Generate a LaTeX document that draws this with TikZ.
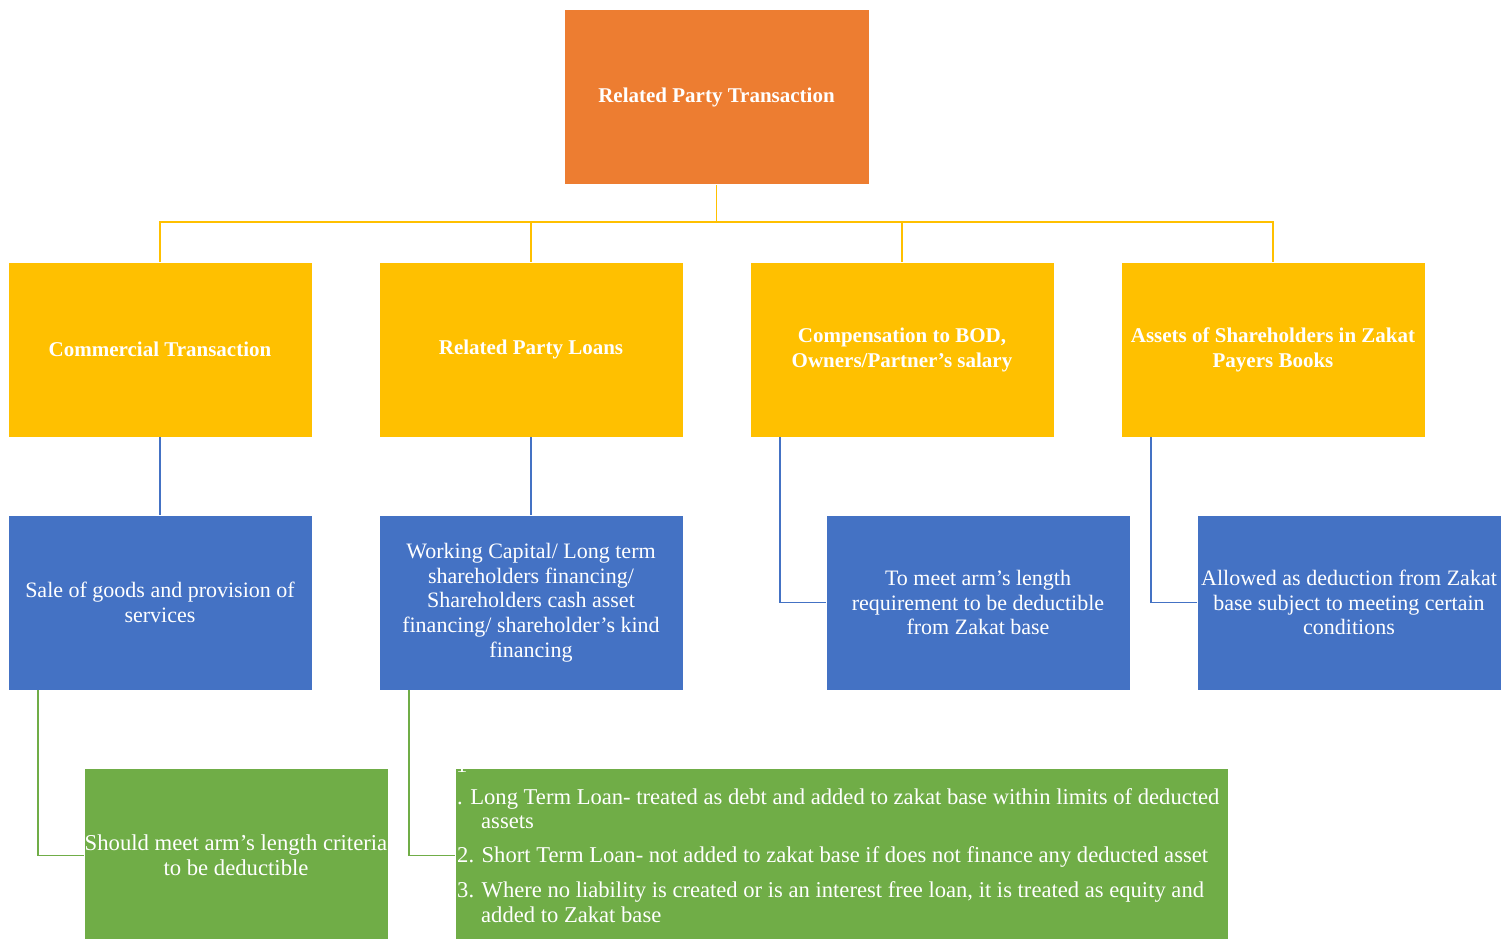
\documentclass[tikz,border=0pt]{standalone}
\usepackage{fontspec}
\setmainfont{Liberation Serif}
\definecolor{orangeC}{HTML}{ED7D31}
\definecolor{yellowC}{HTML}{FFC000}
\definecolor{blueC}{HTML}{4472C4}
\definecolor{greenC}{HTML}{70AD47}
\begin{document}
\begin{tikzpicture}[x=1pt,y=-1pt,
  box/.style={rectangle, minimum width=304pt, minimum height=175pt, inner sep=0pt,
    text=white, align=center, draw=white, line width=0.5pt},
  topbox/.style={box, fill=orangeC, minimum width=305pt, font=\bfseries\fontsize{21}{25}\selectfont},
  headbox/.style={box, fill=yellowC, font=\bfseries\fontsize{21}{25}\selectfont},
  bluebox/.style={box, fill=blueC, font=\fontsize{22}{24.7}\selectfont},
  greenbox/.style={box, fill=greenC, font=\fontsize{22.7}{24.7}\selectfont},
  listtext/.style={inner sep=0pt, text=white, font=\fontsize{22.6}{24.7}\selectfont},
  ylink/.style={draw=yellowC, line width=1.8pt},
  blink/.style={draw=blueC, line width=1.8pt},
  glink/.style={draw=greenC, line width=1.8pt}]
\useasboundingbox (0,0) rectangle (1511,938);

\node[topbox] (top) at (716.5,97) {Related Party Transaction};

\node[headbox] (h1) at (160,349.5) {Commercial Transaction};
\node[headbox] (h2) at (531,349.5) {Related Party Loans};
\node[headbox] (h3) at (902,349.5) {Compensation to BOD,\\Owners/Partner’s salary};
\node[headbox] (h4) at (1273,349.5) {Assets of Shareholders in Zakat\\Payers Books};

\node[bluebox] (b1) at (160,602.5) {Sale of goods and provision of\\services};
\node[bluebox] (b2) at (531,602.5) {Working Capital/ Long term\\shareholders financing/\\Shareholders cash asset\\financing/ shareholder’s kind\\financing};
\node[bluebox] (b3) at (978,602.5) {To meet arm’s length\\requirement to be deductible\\from Zakat base};
\node[bluebox] (b4) at (1349,602.5) {Allowed as deduction from Zakat\\base subject to meeting certain\\conditions};

\node[greenbox] (g1) at (236,855.5) {Should meet arm’s length criteria\\to be deductible};
\node[greenbox, minimum width=773pt] (g2) at (841.5,855.5) {};

\begin{scope}
  \clip (g2.north west) rectangle (g2.south east);
  \node[listtext, anchor=base west] (one) at (456,772) {1};
\end{scope}
\node[listtext, anchor=base west, align=left] (list) at (457,922)
  {. Long Term Loan- treated as debt and added to zakat base within limits of deducted\\
   \hspace*{24pt}assets\\[9pt]
   2. Short Term Loan- not added to zakat base if does not finance any deducted asset\\[10pt]
   3. Where no liability is created or is an interest free loan, it is treated as equity and\\
   \hspace*{24pt}added to Zakat base};

% yellow connectors
\coordinate (ybus) at (716.5,222);
\draw[ylink] (top.south) -- (ybus);
\draw[ylink] (h1.north) -- (h1.north |- ybus) -- (h4.north |- ybus) -- (h4.north);
\draw[ylink] (h2.north) -- (h2.north |- ybus);
\draw[ylink] (h3.north) -- (h3.north |- ybus);

% blue connectors
\draw[blink] (h1.south) -- (b1.north);
\draw[blink] (h2.south) -- (b2.north);
\draw[blink] ([xshift=30pt]h3.south west) |- (b3.west);
\draw[blink] ([xshift=30pt]h4.south west) |- (b4.west);

% green connectors
\draw[glink] ([xshift=30pt]b1.south west) |- (g1.west);
\draw[glink] ([xshift=30pt]b2.south west) |- (g2.west);
\end{tikzpicture}
\end{document}
